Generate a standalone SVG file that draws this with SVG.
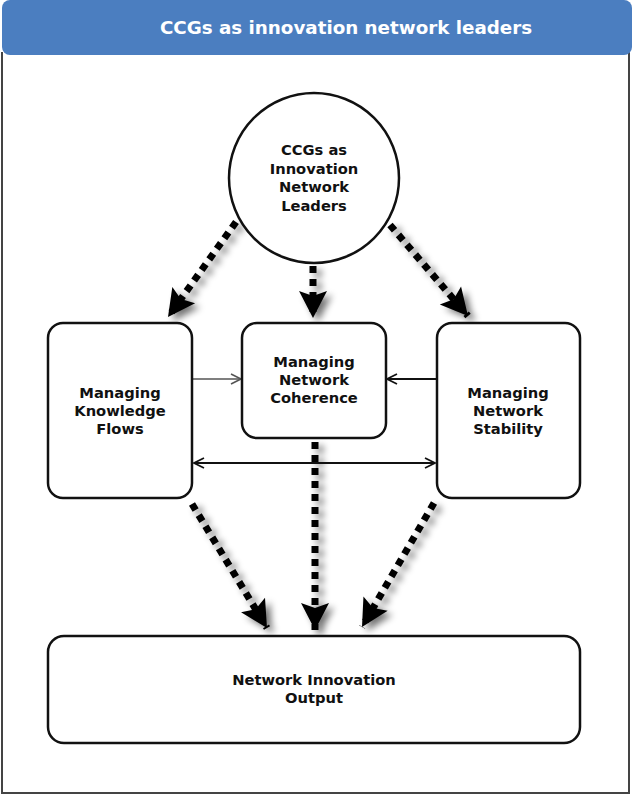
<svg xmlns="http://www.w3.org/2000/svg" width="633" height="795" viewBox="0 0 633 795">
<defs>
<style>
.node{fill:#fff;stroke:#111;stroke-width:2.5}
.lbl{font-family:"DejaVu Sans",Verdana,sans-serif;font-weight:bold;font-size:14.7px;fill:#111;text-anchor:middle}
.title{font-family:"DejaVu Sans",Verdana,sans-serif;font-weight:bold;font-size:18.3px;fill:#fff;text-anchor:middle}
.dash{fill:none;stroke:#000;stroke-width:7;stroke-dasharray:7 6;marker-end:url(#bigHead)}
.thin{fill:none;stroke:#111;stroke-width:1.8}
</style>
<marker id="bigHead" markerUnits="userSpaceOnUse" markerWidth="32" markerHeight="32" viewBox="0 -16 28 32" refX="27" refY="0" orient="auto">
<path d="M0,-14 L27,0 L0,14 L5,0 Z" fill="#000"/>
</marker>
<marker id="thinHead" markerUnits="userSpaceOnUse" markerWidth="14" markerHeight="14" viewBox="0 -7 12 14" refX="11" refY="0" orient="auto-start-reverse">
<path d="M1,-5 L11,0 L1,5" fill="none" stroke="#111" stroke-width="1.8"/>
</marker>
<marker id="thinHeadGrey" markerUnits="userSpaceOnUse" markerWidth="14" markerHeight="14" viewBox="0 -7 12 14" refX="11" refY="0" orient="auto">
<path d="M1,-5 L11,0 L1,5" fill="none" stroke="#555" stroke-width="1.6"/>
</marker>
<filter id="shadow" x="-30%" y="-30%" width="160%" height="160%">
<feGaussianBlur in="SourceAlpha" stdDeviation="3.5"/>
<feOffset dx="5" dy="4" result="b"/>
<feComponentTransfer><feFuncA type="linear" slope="0.55"/></feComponentTransfer>
<feMerge><feMergeNode/><feMergeNode in="SourceGraphic"/></feMerge>
</filter>
</defs>
<rect width="633" height="795" fill="#fff"/>
<g id="frame">
<path d="M2,52 L2,793 L629,793 L629,52" fill="none" stroke="#444" stroke-width="2"/>
<rect x="2" y="0" width="630" height="55" rx="8" fill="#4b7ec0"/>
<text class="title" x="346" y="34">CCGs as innovation network leaders</text>
</g>
<g id="connectors">
<g filter="url(#shadow)">
<path class="dash" d="M236,222 L168,317"/>
<path class="dash" d="M313,266 L313,318"/>
<path class="dash" d="M390,225 L468,316"/>
<path class="dash" d="M192,504 L267,628"/>
<path class="dash" d="M315,442 L315,630"/>
<path class="dash" d="M434,503 L362,627"/>
</g>
<path d="M193,379 L241,379" fill="none" stroke="#555" stroke-width="1.6" marker-end="url(#thinHeadGrey)"/>
<path class="thin" d="M436,379 L387,379" marker-end="url(#thinHead)"/>
<path class="thin" d="M194,463 L435,463" marker-start="url(#thinHead)" marker-end="url(#thinHead)"/>
</g>
<g id="leaders">
<circle class="node" cx="314" cy="178" r="85"/>
<text class="lbl" x="314" y="155">CCGs as</text>
<text class="lbl" x="314" y="173.5">Innovation</text>
<text class="lbl" x="314" y="192">Network</text>
<text class="lbl" x="314" y="210.5">Leaders</text>
</g>
<g id="knowledge">
<rect class="node" x="48" y="323" width="144" height="175" rx="15"/>
<text class="lbl" x="120" y="398">Managing</text>
<text class="lbl" x="120" y="416">Knowledge</text>
<text class="lbl" x="120" y="434">Flows</text>
</g>
<g id="coherence">
<rect class="node" x="242" y="323" width="144" height="115" rx="15"/>
<text class="lbl" x="314" y="367">Managing</text>
<text class="lbl" x="314" y="385">Network</text>
<text class="lbl" x="314" y="403">Coherence</text>
</g>
<g id="stability">
<rect class="node" x="437" y="323" width="143" height="175" rx="15"/>
<text class="lbl" x="508" y="398">Managing</text>
<text class="lbl" x="508" y="416">Network</text>
<text class="lbl" x="508" y="434">Stability</text>
</g>
<g id="output">
<rect class="node" x="48" y="636" width="532" height="107" rx="16"/>
<text class="lbl" x="314" y="685">Network Innovation</text>
<text class="lbl" x="314" y="703">Output</text>
</g>
</svg>
